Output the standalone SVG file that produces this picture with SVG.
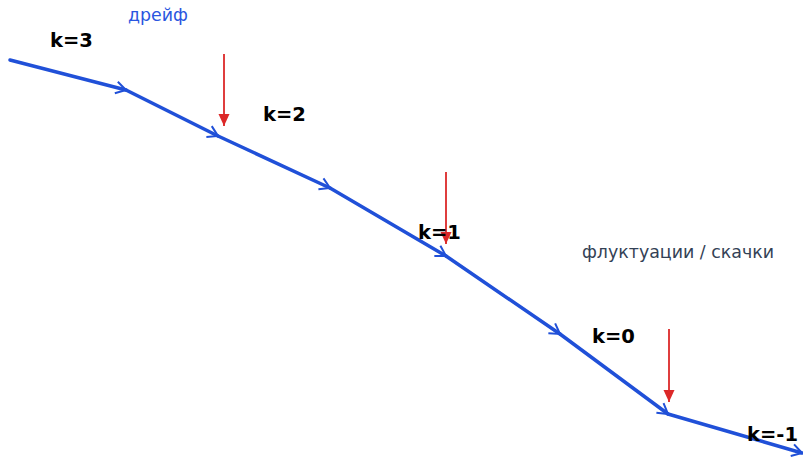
<svg xmlns="http://www.w3.org/2000/svg" width="803" height="460" viewBox="0 0 803 460">
<style>
.seg{stroke:#2050d8;stroke-width:3.5;fill:none;stroke-linecap:round;marker-end:url(#chev)}
.jump{stroke:#dc2828;stroke-width:1.8;fill:none;marker-end:url(#tri)}
.k{font-family:"DejaVu Sans",sans-serif;font-weight:bold;font-size:19.5px;fill:#000}
.note{font-family:"DejaVu Sans",sans-serif;font-size:17.4px}
</style>
<defs>
<marker id="chev" markerUnits="userSpaceOnUse" markerWidth="18" markerHeight="18" refX="13" refY="7" orient="auto" viewBox="0 0 18 14">
<path d="M3,1 L13,7 L3,13" fill="none" stroke="#2050d8" stroke-width="2"/>
</marker>
<marker id="tri" markerUnits="userSpaceOnUse" markerWidth="12" markerHeight="12" refX="12" refY="5.5" orient="auto" viewBox="0 0 12 11">
<path d="M0,0 L12,5.5 L0,11 Z" fill="#dc2828"/>
</marker>
</defs>
<g id="connectors">
<line class="seg" x1="10" y1="60" x2="126" y2="90"/>
<line class="seg" x1="126" y1="90" x2="218" y2="136"/>
<line class="seg" x1="218" y1="136" x2="330" y2="188"/>
<line class="seg" x1="330" y1="188" x2="446" y2="256"/>
<line class="seg" x1="446" y1="256" x2="560" y2="334"/>
<line class="seg" x1="560" y1="334" x2="668" y2="414"/>
<line class="seg" x1="668" y1="414" x2="802" y2="453"/>
<line class="jump" x1="224" y1="54" x2="224" y2="126"/>
<line class="jump" x1="446" y1="172" x2="446" y2="244"/>
<line class="jump" x1="669" y1="329" x2="669" y2="402"/>
</g>
<g id="label-drift"><text class="note" x="128" y="21" fill="#2a56e0">дрейф</text></g>
<g id="label-fluct"><text class="note" x="582" y="258" fill="#334155">флуктуации / скачки</text></g>
<g id="k3"><text class="k" x="50" y="47">k=3</text></g>
<g id="k2"><text class="k" x="263" y="121">k=2</text></g>
<g id="k1"><text class="k" x="418" y="239">k=1</text></g>
<g id="k0"><text class="k" x="592" y="343">k=0</text></g>
<g id="km1"><text class="k" x="747" y="441">k=-1</text></g>
</svg>
